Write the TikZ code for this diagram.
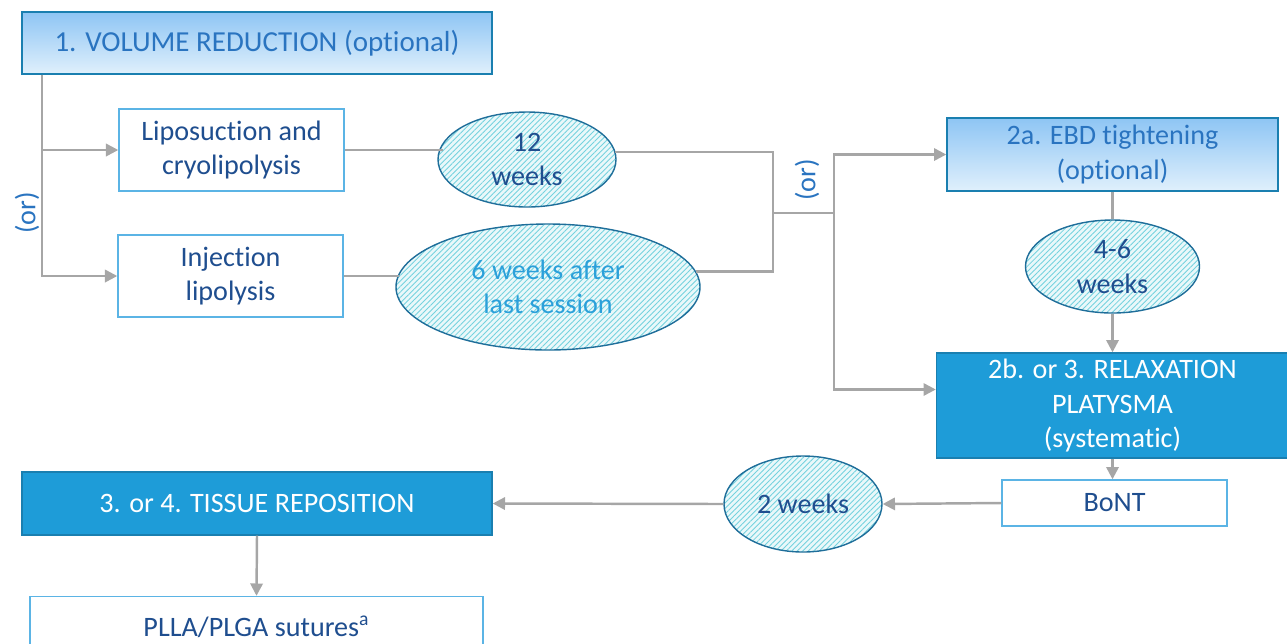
\documentclass[tikz,border=0pt]{standalone}
\usepackage{fontspec}
\setmainfont{Carlito}[Ligatures=NoCommon]
\usepackage{tikz}
\usetikzlibrary{shapes,arrows.meta,positioning,patterns.meta}
\definecolor{linegray}{HTML}{A6A6A6}
\definecolor{txtdark}{HTML}{1F4E8F}
\definecolor{txtmid}{HTML}{2A74C0}
\definecolor{txtlight}{HTML}{2BA0DA}
\definecolor{boxline}{HTML}{5BB4E5}
\definecolor{stepfill}{HTML}{1E9CD8}
\definecolor{stepline}{HTML}{1A7FB0}
\definecolor{gradtop}{HTML}{8EC5F4}
\definecolor{gradbot}{HTML}{E0F0FC}
\definecolor{ellline}{HTML}{1F6E9A}
\definecolor{hatch}{HTML}{74D2DE}

\begin{document}
\begin{tikzpicture}[
    font=\fontsize{16}{19.5}\selectfont,
    optbox/.style={draw=stepline, line width=0.8pt, shading=axis, top color=gradtop, bottom color=gradbot, text=txtmid, align=center},
    stepbox/.style={draw=stepline, line width=0.8pt, fill=stepfill, text=white, align=center},
    treatbox/.style={draw=boxline, line width=0.8pt, fill=white, text=txtdark, align=center, minimum width=4.5cm},
    waitell/.style={ellipse, draw=ellline, line width=0.8pt, preaction={fill=hatch!15}, pattern={Lines[angle=45,distance=2.2pt,line width=0.5pt]}, pattern color=hatch, text=txtdark, align=center, inner sep=0pt},
    link/.style={draw=linegray, line width=1.4pt},
    arrowlink/.style={link, -{Triangle[length=7pt,width=7pt]}},
    ortext/.style={text=txtmid, rotate=90}
]
    \useasboundingbox (0,0) rectangle (25.74,-12.86);

    % Step 1
    \node[optbox, minimum width=9.4cm, minimum height=1.24cm, font=\fontsize{16.5}{20}\selectfont] (volred) at (5.14,-0.86) {1. VOLUME REDUCTION (optional)};
    \node[treatbox, minimum height=1.64cm] (lipo) at (4.63,-3.0) {Liposuction and\\cryolipolysis};
    \node[treatbox, minimum height=1.64cm] (inject) at (4.61,-5.52) {Injection\\lipolysis};
    \node[ortext] (orleft) at (0.54,-4.26) {(or)};

    % Waiting times after step 1
    \node[waitell, minimum width=3.56cm, minimum height=1.9cm] (wait12) at (10.54,-3.19) {12\\weeks};
    \node[waitell, minimum width=6.08cm, minimum height=2.52cm, text=txtlight] (wait6) at (10.96,-5.74) {6 weeks after\\last session};
    \node[ortext] (ormid) at (16.14,-3.6) {(or)};

    % Step 2
    \node[optbox, minimum width=6.62cm, minimum height=1.46cm] (tighten) at (22.25,-3.09) {2a. EBD tightening\\(optional)};
    \node[waitell, minimum width=3.48cm, minimum height=1.86cm] (wait46) at (22.25,-5.33) {4-6\\weeks};
    \node[stepbox, minimum width=7.04cm, minimum height=2.1cm] (relax) at (22.25,-8.11) {2b. or 3. RELAXATION\\PLATYSMA\\(systematic)};
    \node[treatbox, minimum height=0.92cm] (bont) at (22.29,-10.06) {BoNT};
    \node[waitell, minimum width=3.16cm, minimum height=1.92cm] (wait2) at (16.06,-10.08) {2 weeks};

    % Step 3
    \node[stepbox, minimum width=9.4cm, minimum height=1.26cm] (repos) at (5.14,-10.07) {3. or 4. TISSUE REPOSITION};
    \node[treatbox, minimum width=9.06cm, minimum height=1.2cm] (sutures) at (5.13,-12.53) {PLLA/PLGA sutures\textsuperscript{a}};

    % Forks
    \coordinate (forkleft) at (0.84,-4.26);
    \coordinate (forkmid) at (15.46,-4.26);
    \coordinate (forkright) at (16.68,-4.26);

    % Connectors
    \draw[arrowlink] (volred.south -| forkleft) |- (lipo.west);
    \draw[arrowlink] (volred.south -| forkleft) |- (inject.west);
    \draw[link] (lipo.east) -- ([xshift=3pt]lipo.east -| wait12.west);
    \draw[link] (inject.east) -- ([xshift=2pt]inject.east -| wait6.west);
    \draw[link] (wait12.5) -| (forkmid) |- (wait6.6);
    \draw[link] (forkmid) -- (forkright);
    \draw[arrowlink] (forkright) |- (tighten.west);
    \draw[arrowlink] (forkright) |- ([yshift=0.32cm]relax.west);
    \draw[link] (tighten.south) -- (wait46.north);
    \draw[arrowlink] (wait46.south) -- (relax.north);
    \draw[arrowlink] (relax.south) -- (relax.south |- bont.north);
    \draw[arrowlink] (bont.west) -- (wait2.east);
    \draw[arrowlink] (wait2.west) -- (repos.east);
    \draw[arrowlink] (repos.south) -- (sutures.north);
\end{tikzpicture}
\end{document}
